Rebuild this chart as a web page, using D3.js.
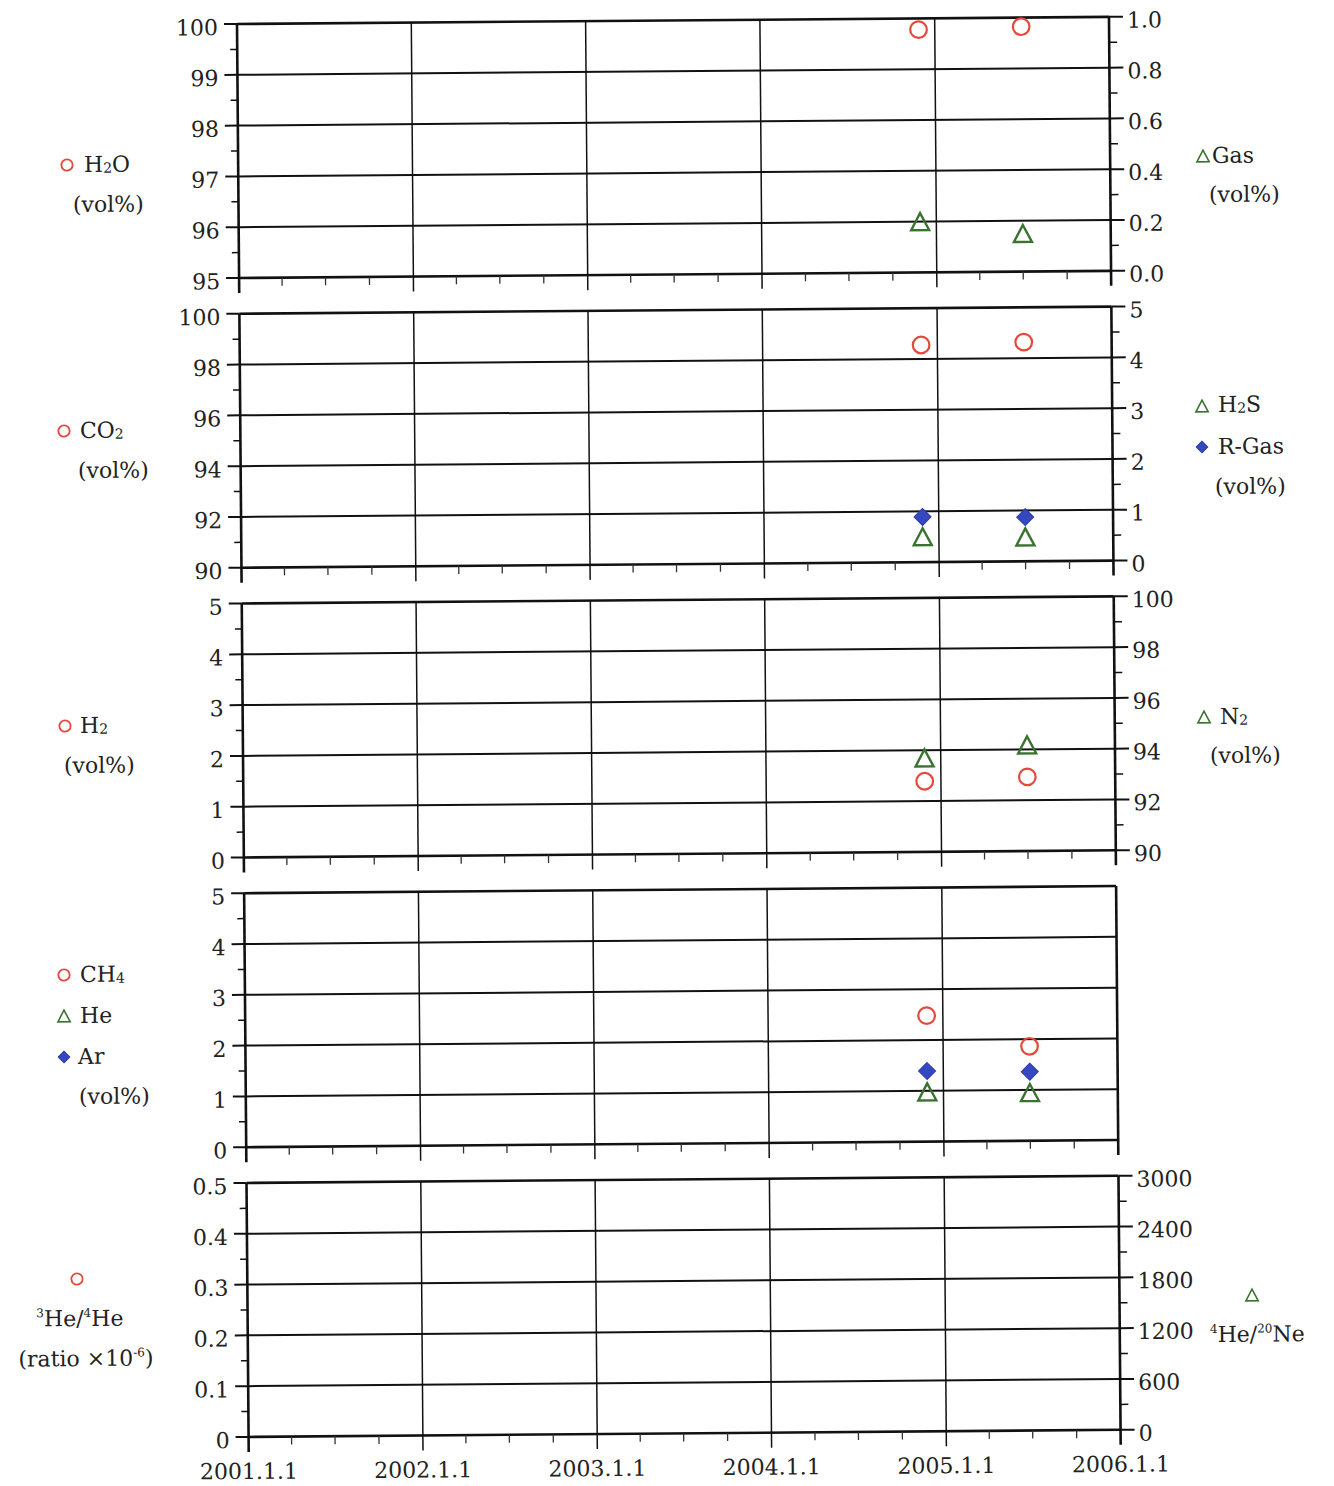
<!DOCTYPE html>
<html><head><meta charset="utf-8">
<script src="https://cdn.jsdelivr.net/npm/d3@7"></script>
<style>
html,body{margin:0;padding:0;background:#fff;}
svg{display:block;}
text{font-family:"DejaVu Serif",serif;fill:#222;}
</style></head>
<body>
<script>
// ---------------- data ----------------
const sampleDates = ["2004-11-28", "2005-07-01"];
const h2o = [99.78, 99.82];
const gas = [0.20, 0.15];
const co2 = [98.55, 98.63];
const h2s = [0.50, 0.48];
const rgas = [0.89, 0.87];
const h2 = [1.39, 1.46];
const n2 = [93.70, 94.18];
const ch4 = [2.48, 1.86];
const he = [0.98, 0.95];
const ar = [1.39, 1.36];
const he3he4 = [];
const he4ne20 = [];
const xTickLabels = ["2001.1.1", "2002.1.1", "2003.1.1", "2004.1.1", "2005.1.1", "2006.1.1"];

// ---------------- layout ----------------
const W = 1334, H = 1486;
const X0 = 237, Y0 = 24, PW = 872, PH = 254, STEP = 289.75;
const ANG = -0.47;
const RED = "#e5483a", GREEN = "#3a7330", BLUE = "#3548c0";

const svg = d3.select("body").append("svg").attr("width", W).attr("height", H);
const root = svg.append("g").attr("transform", `rotate(${ANG},${X0},${Y0})`);

// inverse rotation: image coords -> unrotated frame
const th = -ANG * Math.PI / 180;
function inv(x, y) {
  const dx = x - X0, dy = y - Y0;
  const c = Math.cos(th), s = Math.sin(th);
  return [X0 + dx * c - dy * s, Y0 + dx * s + dy * c];
}

const parse = d3.timeParse("%Y-%m-%d");
const x = d3.scaleTime().domain([parse("2001-01-01"), parse("2006-01-01")]).range([0, PW]);
const years = d3.timeYear.range(parse("2001-01-01"), parse("2006-01-02"));
const quarters = d3.timeMonth.every(3).range(parse("2001-01-01"), parse("2006-01-01")).filter(d => d.getMonth() !== 0);

function ticksRange(a, b, step) {
  const n = Math.round((b - a) / step);
  return d3.range(n + 1).map(i => +(a + i * step).toFixed(6));
}

const panels = [
  { left: [95, 100], lstep: 1, lfmt: d3.format("d"),
    right: [0, 1], rstep: 0.2, rfmt: d3.format(".1f"),
    series: [{v: h2o, axis: "l", sym: "circle"}, {v: gas, axis: "r", sym: "tri"}] },
  { left: [90, 100], lstep: 2, lfmt: d3.format("d"),
    right: [0, 5], rstep: 1, rfmt: d3.format("d"),
    series: [{v: co2, axis: "l", sym: "circle"}, {v: rgas, axis: "r", sym: "dia"}, {v: h2s, axis: "r", sym: "tri"}] },
  { left: [0, 5], lstep: 1, lfmt: d3.format("d"),
    right: [90, 100], rstep: 2, rfmt: d3.format("d"),
    series: [{v: h2, axis: "l", sym: "circle"}, {v: n2, axis: "r", sym: "tri"}] },
  { left: [0, 5], lstep: 1, lfmt: d3.format("d"),
    right: null,
    series: [{v: ch4, axis: "l", sym: "circle"}, {v: ar, axis: "l", sym: "dia"}, {v: he, axis: "l", sym: "tri"}] },
  { left: [0, 0.5], lstep: 0.1, lfmt: d => d === 0 ? "0" : d3.format(".1f")(d),
    right: [0, 3000], rstep: 600, rfmt: d3.format("d"),
    series: [{v: he3he4, axis: "l", sym: "circle"}, {v: he4ne20, axis: "r", sym: "tri"}] }
];

function drawSym(g, sym, cx, cy, big) {
  const k = big ? 1 : 0.68;
  if (sym === "circle") {
    g.append("circle").attr("cx", cx).attr("cy", cy).attr("r", 8.3 * k)
      .attr("fill", "none").attr("stroke", RED).attr("stroke-width", big ? 2.2 : 1.8);
  } else if (sym === "tri") {
    const w = 9 * k, h = 8.5 * k;
    g.append("path").attr("d", `M${cx},${cy - h}L${cx + w},${cy + h}L${cx - w},${cy + h}Z`)
      .attr("fill", "none").attr("stroke", GREEN).attr("stroke-width", big ? 2.4 : 1.6).attr("stroke-linejoin", "miter");
  } else {
    const r = 8.5 * k;
    g.append("path").attr("d", `M${cx},${cy - r}L${cx + r},${cy}L${cx},${cy + r}L${cx - r},${cy}Z`)
      .attr("fill", BLUE).attr("stroke", "#2a3aa8").attr("stroke-width", 1);
  }
}

panels.forEach((p, i) => {
  const g = root.append("g").attr("transform", `translate(${X0},${Y0 + i * STEP})`);
  const yl = d3.scaleLinear().domain(p.left).range([PH, 0]);
  const yr = p.right ? d3.scaleLinear().domain(p.right).range([PH, 0]) : null;

  const lt = ticksRange(p.left[0], p.left[1], p.lstep);
  g.selectAll(".hg").data(lt).enter().append("line")
    .attr("x1", 0).attr("x2", PW).attr("y1", d => yl(d)).attr("y2", d => yl(d))
    .attr("stroke", "#111").attr("stroke-width", (d, j) => (j === 0 || j === lt.length - 1) ? 2.6 : 2);

  g.selectAll(".vg").data(years).enter().append("line")
    .attr("x1", d => x(d)).attr("x2", d => x(d)).attr("y1", 0).attr("y2", PH + 15)
    .attr("stroke", "#111").attr("stroke-width", (d, j) => (j === 0 || j === years.length - 1) ? 2.6 : 1.5);

  g.selectAll(".qt").data(quarters).enter().append("line")
    .attr("x1", d => x(d)).attr("x2", d => x(d)).attr("y1", PH).attr("y2", PH + 8)
    .attr("stroke", "#333").attr("stroke-width", 1.3);

  const lminor = ticksRange(p.left[0] + p.lstep / 2, p.left[1] - p.lstep / 2, p.lstep);
  g.selectAll(".lmt").data(lminor).enter().append("line")
    .attr("x1", -7).attr("x2", 0).attr("y1", d => yl(d)).attr("y2", d => yl(d))
    .attr("stroke", "#111").attr("stroke-width", 1.5);
  g.selectAll(".lMt").data(lt).enter().append("line")
    .attr("x1", -13).attr("x2", 0).attr("y1", d => yl(d)).attr("y2", d => yl(d))
    .attr("stroke", "#111").attr("stroke-width", 2);
  g.selectAll(".ll").data(lt).enter().append("text")
    .attr("x", -19).attr("y", d => yl(d) + 11).attr("text-anchor", "end")
    .attr("font-size", 22).text(p.lfmt);

  if (yr) {
    const rt = ticksRange(p.right[0], p.right[1], p.rstep);
    const rminor = ticksRange(p.right[0] + p.rstep / 2, p.right[1] - p.rstep / 2, p.rstep);
    g.selectAll(".rmt").data(rminor).enter().append("line")
      .attr("x1", PW).attr("x2", PW + 8).attr("y1", d => yr(d)).attr("y2", d => yr(d))
      .attr("stroke", "#111").attr("stroke-width", 1.5);
    g.selectAll(".rMt").data(rt).enter().append("line")
      .attr("x1", PW).attr("x2", PW + 14).attr("y1", d => yr(d)).attr("y2", d => yr(d))
      .attr("stroke", "#111").attr("stroke-width", 2);
    g.selectAll(".rl").data(rt).enter().append("text")
      .attr("x", PW + 18).attr("y", d => yr(d) + 11).attr("text-anchor", "start")
      .attr("font-size", 22).text(p.rfmt);
  }

  p.series.forEach(s => {
    const sc = s.axis === "l" ? yl : yr;
    s.v.forEach((v, j) => drawSym(g, s.sym, x(parse(sampleDates[j])), sc(v), true));
  });

  if (i === panels.length - 1) {
    g.selectAll(".xl").data(years).enter().append("text")
      .attr("x", d => x(d)).attr("y", PH + 42).attr("text-anchor", "middle")
      .attr("font-size", 22).text((d, j) => xTickLabels[j]);
  }
});

// ---------------- legends ----------------
function rich(xi, yi, parts, anchor) {
  const [ux, uy] = inv(xi, yi);
  const t = root.append("text").attr("x", ux).attr("y", uy).attr("font-size", 22)
    .attr("text-anchor", anchor || "start");
  parts.forEach(pt => {
    const ts = t.append("tspan").text(pt.t);
    if (pt.sub) ts.attr("font-size", 14).attr("dy", 1);
    else if (pt.sup) ts.attr("font-size", 12).attr("dy", -9);
    if (pt.back) ts.attr("dy", pt.back);
  });
  return t;
}
function sym(xi, yi, s) {
  const [ux, uy] = inv(xi, yi);
  drawSym(root, s, ux, uy, false);
}

sym(67, 165, "circle");
rich(84, 172, [{t: "H"}, {t: "2", sub: true}, {t: "O", back: -1}]);
rich(73, 212, [{t: "(vol%)"}]);
sym(1203, 156, "tri");
rich(1212, 163, [{t: "Gas"}]);
rich(1209, 202, [{t: "(vol%)"}]);

sym(64, 431, "circle");
rich(80, 438, [{t: "CO"}, {t: "2", sub: true}]);
rich(78, 478, [{t: "(vol%)"}]);
sym(1202, 406, "tri");
rich(1218, 412, [{t: "H"}, {t: "2", sub: true}, {t: "S", back: -1}]);
sym(1202, 447, "dia");
rich(1218, 454, [{t: "R-Gas"}]);
rich(1215, 494, [{t: "(vol%)"}]);

sym(65, 726, "circle");
rich(80, 733, [{t: "H"}, {t: "2", sub: true}]);
rich(64, 773, [{t: "(vol%)"}]);
sym(1204, 717, "tri");
rich(1220, 724, [{t: "N"}, {t: "2", sub: true}]);
rich(1210, 763, [{t: "(vol%)"}]);

sym(64, 975, "circle");
rich(80, 982, [{t: "CH"}, {t: "4", sub: true}]);
sym(64, 1016, "tri");
rich(80, 1023, [{t: "He"}]);
sym(64, 1057, "dia");
rich(78, 1064, [{t: "Ar"}]);
rich(79, 1104, [{t: "(vol%)"}]);

sym(77, 1279, "circle");
rich(80, 1326, [{t: "3", sup: true}, {t: "He/", back: 9}, {t: "4", sup: true}, {t: "He", back: 9}], "middle");
rich(86, 1366, [{t: "(ratio ×10"}, {t: "-6", sup: true}, {t: ")", back: 9}], "middle");
sym(1252, 1295, "tri");
rich(1210, 1342, [{t: "4", sup: true}, {t: "He/", back: 9}, {t: "20", sup: true}, {t: "Ne", back: 9}]);
</script>
</body></html>
